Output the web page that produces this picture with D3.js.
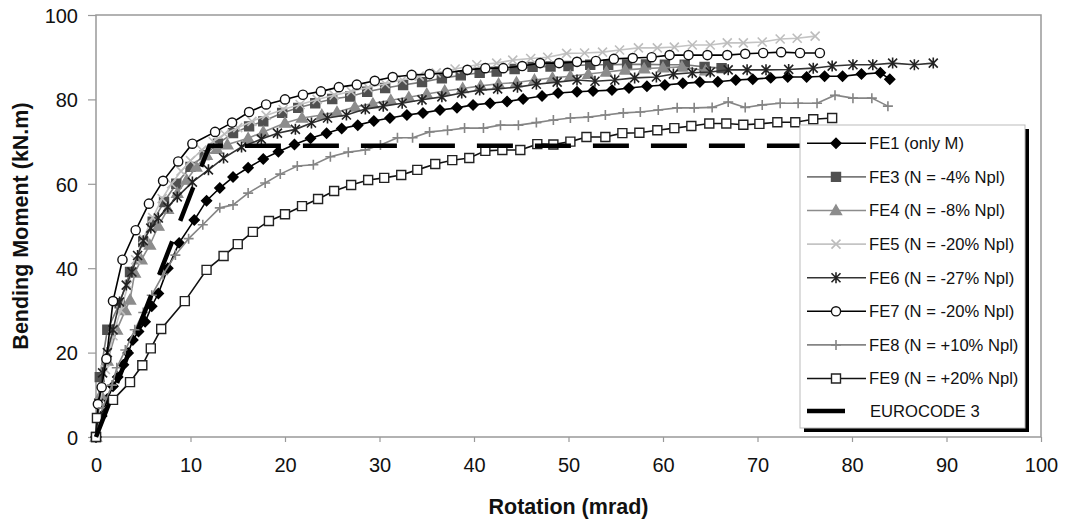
<!DOCTYPE html>
<html>
<head>
<meta charset="utf-8">
<script src="https://cdn.jsdelivr.net/npm/d3@7"></script>
<style>
body { margin: 0; background: #fff; }
svg text { font-family: "Liberation Sans", Arial, sans-serif; }
</style>
</head>
<body>
<svg id="chart" width="1067" height="525"></svg>
<script>
// chart values: [rotation mrad, moment kN.m]
var fe1 = [[0,0],[0.6,5],[1.2,9],[1.8,12],[2.3,14.2],[2.9,17.1],[3.4,19.9],[3.9,23],[4.5,25],[5.2,27.3],[5.9,31],[6.6,34],[7.6,40],[8.8,46],[10.4,51.4],[11.7,56],[13.1,59],[14.5,61.6],[16.1,63.8],[17.7,65.9],[19.3,67.6],[21,69.3],[22.7,70.8],[24.4,72],[26,73.1],[27.7,73.9],[29.4,74.9],[31.1,75.6],[32.9,76.3],[34.6,76.8],[36.4,77.5],[38.2,78],[39.9,78.7],[41.7,79.1],[43.5,79.5],[45.2,80.1],[47.2,80.8],[48.9,81.5],[50.9,81.8],[52.6,82],[54.6,82.2],[56.4,82.7],[58.3,83.1],[60.2,83.4],[62.1,83.8],[63.9,84.1],[65.8,84.2],[67.7,84.6],[69.5,84.8],[71.4,85.1],[73.2,85.3],[75.2,85.3],[77.1,85.5],[79,85.5],[81,86],[83,86.3],[84,84.8]];
var fe3 = [[0,0],[0.4,14.2],[1.2,25.4],[2.5,31.7],[3.6,39.1],[5,46.2],[6,51],[7.2,55.7],[8.5,60],[10,64],[11.5,66.8],[12.9,69.5],[14.5,72],[16.2,73.6],[17.7,74.8],[19.7,76.8],[21.4,78],[23.2,79.1],[25,80.1],[26.9,80.7],[28.7,81.8],[30.6,82.7],[32.5,83.4],[34.5,84.1],[36.6,85],[38.6,85.7],[40.6,86.3],[42.4,86.6],[44.3,87.2],[46.2,87.7],[48.1,87.8],[50,87.9],[52.3,88.2],[54.2,88.2],[56.2,88.3],[58.2,88.3],[60.2,88.2],[62.3,88.2],[64.4,87.7],[66.2,87.4]];
var fe4 = [[0,0],[0.5,10],[1.2,18],[2.2,25.4],[3.1,30],[3.6,32.5],[4.1,38.9],[4.8,42],[5.7,45.5],[6.6,50],[7.6,54],[8.6,57.8],[9.6,60.9],[10.6,64],[11.7,66.8],[12.8,68.2],[13.9,69.3],[16.1,70.8],[17.7,72.3],[20,74.4],[21.8,75.6],[23.9,76.3],[25.5,77],[27.4,78.2],[29.3,79],[31.2,79.8],[33.1,80.5],[35,81.3],[36.9,82],[38.8,82.6],[40.7,83.2],[42.6,83.7],[44.5,84],[46.4,84.6],[48.3,85.1],[50.2,85.5],[52.1,86],[54,86.5],[56,87],[58,87.3],[60,87.5],[62,87.7],[64.5,86.8]];
var fe5 = [[0,0],[0.4,8],[1,16],[1.8,24],[2.6,30],[3.4,36],[4.2,42],[5,47],[6,52],[7,56.5],[8,60],[9,63],[10,65.5],[11.2,68],[12.4,70],[13.6,71.8],[15,73.3],[16.5,74.8],[18,76.2],[19.8,77.6],[21.6,78.8],[23.4,80],[25.2,81],[27,81.9],[28.8,82.8],[30.6,83.7],[32.4,84.6],[34.2,85.5],[36,86.3],[38,87.2],[40.3,88.2],[42.4,88.6],[44.1,89.3],[46,89.7],[47.8,90],[49.8,90.9],[51.7,91],[53.6,91.2],[55.4,91.7],[57.4,92.2],[59.4,92.2],[61.2,92.4],[63.1,92.9],[65,92.9],[66.8,93.4],[68.5,93.4],[70.5,93.6],[72.4,94.3],[74.2,94.5],[76.1,95]];
var fe6 = [[0,0],[0.3,8],[0.7,15.2],[1.2,20],[1.8,25.4],[2.5,32],[3.2,36],[3.8,39.1],[4.4,43],[5,46.5],[5.8,49.5],[6.6,51.9],[7.6,54.5],[8.6,56.9],[10.2,60.4],[11.9,63.3],[13.5,66.1],[15.4,68.7],[17.5,70.6],[19.2,72],[21.1,72.9],[22.8,74.4],[24.5,75.6],[26.5,76.3],[28.5,77.7],[30.4,78.4],[32.4,79.1],[34.5,79.9],[36.6,80.6],[38.7,81.5],[40.6,82.2],[42.5,82.5],[44.6,82.9],[46.6,83.6],[48.8,84.1],[50.9,84.6],[52.8,84.3],[54.9,84.6],[57,85.1],[59.3,85.3],[61.1,86],[63.1,86.3],[65,86.5],[66.9,87],[68.9,87],[70.9,87],[73.3,87.1],[75.9,87.4],[77.9,87.9],[80.1,88.2],[82.2,88.2],[84.3,88.6],[86.6,88.2],[88.6,88.6]];
var fe7 = [[0,0],[0.2,7.8],[0.6,11.8],[1.1,18.5],[1.8,32.2],[2.8,42],[4.2,49],[5.6,55.3],[7.1,60.7],[8.7,65.3],[10.2,69.5],[12.6,72.3],[14.4,74.5],[16.2,77],[18,78.8],[20,80],[21.9,81.1],[23.8,81.9],[25.7,82.9],[27.6,83.5],[29.5,84.4],[31.4,85.3],[33.4,85.8],[35.3,86],[37.2,86.3],[39.3,87],[41.2,87.4],[43.1,87.4],[45.1,87.9],[47,88.6],[49,88.6],[50.9,88.9],[52.9,89.1],[54.8,89.6],[56.8,89.8],[58.8,90],[60.7,90.5],[62.7,90.5],[64.7,90.5],[66.8,90.5],[68.7,90.8],[70.6,91],[72.5,91.2],[74.5,91],[76.6,91]];
var fe8 = [[0,0],[0.7,6.9],[1.7,12.3],[2.2,16.4],[3.1,20.6],[4.1,25.4],[5,29.5],[5.9,33.6],[7.1,38.5],[8.4,43.1],[9.8,47],[11.3,50.3],[13.1,54.3],[14.5,55],[16.1,57.8],[17.9,60.2],[19.5,62.3],[21.3,64.2],[23,64.5],[24.8,66.4],[26.7,67.5],[28.5,68],[30.1,69.2],[31.9,70.9],[33.5,70.9],[35.3,72.3],[37.2,72.7],[39,73.2],[41,73.2],[42.8,73.9],[44.7,73.9],[46.6,74.5],[48.4,75.1],[50.2,75.6],[52.1,75.8],[53.9,76.3],[55.8,76.8],[57.6,77],[59.5,77.5],[61.5,78],[63.3,78],[65.2,78.1],[66.9,79.4],[68.7,78.1],[70.5,78.7],[72.4,79.1],[74.3,79.1],[76.3,79.1],[78.2,81],[80.1,80.3],[82.1,80.3],[83.8,78.4]];
var fe9 = [[0,0],[0.1,4.5],[1.8,8.8],[3.6,13],[4.9,17],[5.8,21],[6.9,25.6],[9.4,32.2],[11.7,39.6],[13.5,42.9],[15,45.7],[16.6,48.6],[18.3,51.2],[20,52.8],[21.8,54.7],[23.5,56.4],[25.2,58.3],[27,59.7],[28.8,60.9],[30.5,61.4],[32.3,62.1],[34,63.3],[35.9,64.7],[37.7,65.6],[39.5,66.1],[41.2,67.8],[43,68],[44.9,68],[46.7,69.4],[48.4,69.3],[50.2,70],[51.9,71.1],[53.9,71.1],[55.7,72],[57.5,72.1],[59.4,72.7],[61.2,73.2],[63,73.7],[64.9,74.3],[66.7,74.3],[68.5,74],[70.2,74.2],[72.1,74.6],[74,74.6],[75.9,75.3],[77.9,75.6]];
var eurocode = [[0,0],[12,69],[84,69]];

var xTicks = [0,10,20,30,40,50,60,70,80,90,100];
var yTicks = [0,20,40,60,80,100];

var seriesNames = ["FE1 (only M)","FE3 (N = -4% Npl)","FE4 (N = -8% Npl)","FE5 (N = -20% Npl)","FE6 (N = -27% Npl)","FE7 (N = -20% Npl)","FE8 (N = +10% Npl)","FE9 (N = +20% Npl)"];
var seriesData = [fe1, fe3, fe4, fe5, fe6, fe7, fe8, fe9];
var ecName = "EUROCODE 3";

// look of each series
var styles = [
	{line:"#000", marker:"diamond", fill:"#000", stroke:"#000"},
	{line:"#7a7a7a", marker:"square", fill:"#505050", stroke:"#505050"},
	{line:"#8c8c8c", marker:"triangle", fill:"#8c8c8c", stroke:"#8c8c8c"},
	{line:"#c4c4c4", marker:"times", fill:"none", stroke:"#bdbdbd"},
	{line:"#333", marker:"asterisk", fill:"none", stroke:"#222"},
	{line:"#000", marker:"circle", fill:"#fff", stroke:"#111"},
	{line:"#858585", marker:"plus", fill:"none", stroke:"#858585"},
	{line:"#111", marker:"openSquare", fill:"#fff", stroke:"#222"}
];

var plot = {left: 96, right: 1041, top: 15, bottom: 437};

var svg = d3.select("#chart");
var x = d3.scaleLinear().domain([0,100]).range([plot.left, plot.right]);
var y = d3.scaleLinear().domain([0,100]).range([plot.bottom, plot.top]);

function markerPath(type){
	var r;
	switch(type){
		case "diamond": r = 5; return "M0,"+(-r)+"L"+r+",0L0,"+r+"L"+(-r)+",0Z";
		case "square": r = 4.5; return "M"+(-r)+","+(-r)+"H"+r+"V"+r+"H"+(-r)+"Z";
		case "openSquare": r = 4.5; return "M"+(-r)+","+(-r)+"H"+r+"V"+r+"H"+(-r)+"Z";
		case "triangle": r = 5.5; return "M0,"+(-r)+"L"+r+","+(r*0.75)+"L"+(-r)+","+(r*0.75)+"Z";
		case "times": r = 4.5; return "M"+(-r)+","+(-r)+"L"+r+","+r+"M"+(-r)+","+r+"L"+r+","+(-r);
		case "asterisk": r = 4.5; return "M"+(-r)+","+(-r)+"L"+r+","+r+"M"+(-r)+","+r+"L"+r+","+(-r)+"M0,-5.5L0,5.5";
		case "plus": r = 5; return "M"+(-r)+",0L"+r+",0M0,"+(-r)+"L0,"+r;
		case "circle": r = 4.6; return "M"+r+",0A"+r+","+r+" 0 1,1 "+(-r)+",0A"+r+","+r+" 0 1,1 "+r+",0Z";
	}
}

// axes
var xAxis = d3.axisBottom(x).tickValues(xTicks).tickSize(5).tickPadding(16).tickFormat(d3.format("d"));
var yAxis = d3.axisLeft(y).tickValues(yTicks).tickSize(8).tickPadding(10).tickFormat(d3.format("d"));

var gx = svg.append("g").attr("transform","translate(0,"+plot.bottom+")").call(xAxis);
var gy = svg.append("g").attr("transform","translate("+plot.left+",0)").call(yAxis);
[gx, gy].forEach(function(g){
	g.select(".domain").remove();
	g.selectAll(".tick line").attr("stroke","#999").attr("stroke-width",1.2);
	g.selectAll(".tick text").attr("fill","#111").attr("font-size","20px");
});
gy.selectAll(".tick text").attr("dy","0.36em");

// frame
svg.append("rect")
	.attr("x", plot.left).attr("y", plot.top)
	.attr("width", plot.right - plot.left).attr("height", plot.bottom - plot.top)
	.attr("fill","none").attr("stroke","#999").attr("stroke-width",1.5);

// axis titles
svg.append("text")
	.attr("x", (plot.left+plot.right)/2).attr("y", 514)
	.attr("text-anchor","middle").attr("font-weight","bold").attr("font-size","21.5px")
	.attr("fill","#111")
	.text("Rotation (mrad)");
svg.append("text")
	.attr("transform","translate(28,"+((plot.top+plot.bottom)/2)+") rotate(-90)")
	.attr("text-anchor","middle").attr("font-weight","bold").attr("font-size","21.5px")
	.attr("fill","#111")
	.text("Bending Moment (kN.m)");

var line = d3.line().x(function(d){ return x(d[0]); }).y(function(d){ return y(d[1]); });
var plotArea = svg.append("g");

// series
seriesData.forEach(function(data, i){
	var st = styles[i];
	var g = plotArea.append("g").attr("class","series");
	g.append("path").datum(data)
		.attr("d", line)
		.attr("fill","none")
		.attr("stroke", st.line)
		.attr("stroke-width",1.6);
	g.selectAll("path.mk").data(data).join("path")
		.attr("class","mk")
		.attr("transform", function(d){ return "translate("+x(d[0])+","+y(d[1])+")"; })
		.attr("d", markerPath(st.marker))
		.attr("fill", st.fill)
		.attr("stroke", st.stroke)
		.attr("stroke-width", (st.fill=="none") ? 1.6 : 1.4);
});

// eurocode 3 line
plotArea.append("path").datum(eurocode)
	.attr("d", line)
	.attr("fill","none")
	.attr("stroke","#000")
	.attr("stroke-width",4.5)
	.attr("stroke-dasharray","36,22");

// legend
var legend = svg.append("g").attr("transform","translate(800,125)");
var legW = 225, legH = 303;
legend.append("rect").attr("x",4).attr("y",4).attr("width",legW).attr("height",legH).attr("fill","#000");
legend.append("rect").attr("x",0).attr("y",0).attr("width",legW).attr("height",legH)
	.attr("fill","#fff").attr("stroke","#bbb").attr("stroke-width",1);

var rowY = function(i){ return 18.3 + i*33.6; };
seriesNames.forEach(function(name, i){
	var st = styles[i];
	var row = legend.append("g").attr("transform","translate(0,"+rowY(i)+")");
	row.append("line").attr("x1",7).attr("x2",66).attr("y1",0).attr("y2",0)
		.attr("stroke", st.line).attr("stroke-width",1.6);
	row.append("path").attr("transform","translate(36,0)")
		.attr("d", markerPath(st.marker))
		.attr("fill", st.fill).attr("stroke", st.stroke)
		.attr("stroke-width", (st.fill=="none") ? 1.6 : 1.4);
	row.append("text").attr("x",69).attr("y",0).attr("dy","0.35em")
		.attr("font-size","16.6px").attr("fill","#111").text(name);
});
var ecRow = legend.append("g").attr("transform","translate(0,"+(rowY(8)-1)+")");
ecRow.append("line").attr("x1",7).attr("x2",45).attr("y1",0).attr("y2",0)
	.attr("stroke","#000").attr("stroke-width",4.5);
ecRow.append("text").attr("x",70).attr("y",0).attr("dy","0.35em")
	.attr("font-size","16.6px").attr("fill","#111").text(ecName);
</script>
</body>
</html>
